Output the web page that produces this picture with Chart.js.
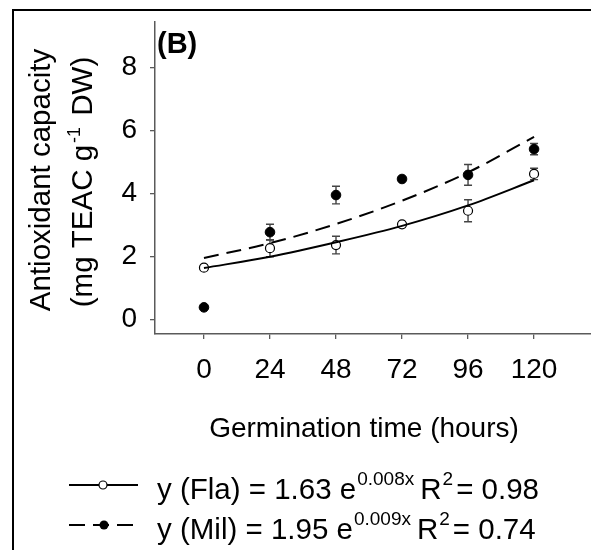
<!DOCTYPE html>
<html>
<head>
<meta charset="utf-8">
<script src="https://cdn.jsdelivr.net/npm/chart.js@4.4.1/dist/chart.umd.min.js"></script>
<style>
  body { margin: 0; background: #fff; }
  canvas { display: block; }
</style>
</head>
<body>
<canvas id="mycanvas" width="591" height="550"></canvas>
<script>
// Values (panel B)
var hours = [0, 24, 48, 72, 96, 120];
var flaMean = [1.64, 2.26, 2.36, 3.02, 3.45, 4.62];
var flaErr = [0.08, 0.27, 0.28, 0.04, 0.35, 0.18];
var milMean = [0.38, 2.77, 3.95, 4.46, 4.59, 5.41];
var milErr = [0.04, 0.25, 0.28, 0.04, 0.33, 0.18];

// fitted curves
var fitHours = [0, 24, 48, 72, 96, 120];
var flaFit = [1.63, 1.99, 2.45, 2.97, 3.62, 4.42];
var milFit = [1.95, 2.42, 3.03, 3.77, 4.67, 5.80];

var xTicks = [0, 24, 48, 72, 96, 120];
var yTicks = [0, 2, 4, 6, 8];

var FONT = "'Liberation Sans', Arial, Helvetica, sans-serif";
var AXIS = '#5a5a5a';

function toPoints(xs, ys) {
  var out = [];
  for (var i = 0; i < xs.length; i++) {
    out.push({x: xs[i], y: ys[i]});
  }
  return out;
}

// text pieces: [text, size, raise, gapAfter]
function richWidth(ctx, parts) {
  var w = 0;
  for (var i = 0; i < parts.length; i++) {
    ctx.font = parts[i][1] + 'px ' + FONT;
    w += ctx.measureText(parts[i][0]).width + (parts[i][3] || 0);
  }
  return w;
}
function drawRich(ctx, parts, x, y) {
  for (var i = 0; i < parts.length; i++) {
    var p = parts[i];
    ctx.font = p[1] + 'px ' + FONT;
    ctx.fillText(p[0], x, y - (p[2] || 0));
    x += ctx.measureText(p[0]).width + (p[3] || 0);
  }
}

// Error bars
var errorBars = {
  id: 'errorBars',
  beforeDatasetsDraw: function(chart) {
    var ctx = chart.ctx;
    var xs = chart.scales.x, ys = chart.scales.y;
    ctx.save();
    ctx.strokeStyle = '#444';
    ctx.lineWidth = 1.4;
    [[flaMean, flaErr], [milMean, milErr]].forEach(function(s) {
      for (var i = 0; i < hours.length; i++) {
        var px = xs.getPixelForValue(hours[i]);
        var top = ys.getPixelForValue(s[0][i] + s[1][i]);
        var bot = ys.getPixelForValue(s[0][i] - s[1][i]);
        ctx.beginPath();
        ctx.moveTo(px, top); ctx.lineTo(px, bot);
        ctx.moveTo(px - 4, top); ctx.lineTo(px + 4, top);
        ctx.moveTo(px - 4, bot); ctx.lineTo(px + 4, bot);
        ctx.stroke();
      }
    });
    ctx.restore();
  }
};

// Frame, titles, panel label, legend
var decorations = {
  id: 'decorations',
  afterDraw: function(chart) {
    var ctx = chart.ctx;
    ctx.save();
    // outer frame (cropped on right and bottom)
    ctx.strokeStyle = '#000';
    ctx.lineWidth = 2;
    ctx.beginPath();
    ctx.moveTo(13, 552); ctx.lineTo(13, 10); ctx.lineTo(595, 10);
    ctx.stroke();

    ctx.fillStyle = '#000';
    ctx.textBaseline = 'alphabetic';

    // panel label
    ctx.font = 'bold 29px ' + FONT;
    ctx.fillText('(B)', 157, 53);

    // x title
    ctx.font = '28px ' + FONT;
    ctx.textAlign = 'center';
    ctx.fillText('Germination time (hours)', 364, 437);
    ctx.textAlign = 'left';

    // y title, two rotated lines
    var l1 = [['Antioxidant capacity', 29.5, 0, 0]];
    var l2 = [['(mg TEAC g', 29.5, 0, 2], ['-1', 18, 12, 3], [' DW)', 29.5, 0, 0]];
    [[l1, 50, 180], [l2, 92, 182]].forEach(function(l) {
      ctx.save();
      ctx.translate(l[1], l[2]);
      ctx.rotate(-Math.PI / 2);
      drawRich(ctx, l[0], -richWidth(ctx, l[0]) / 2, 0);
      ctx.restore();
    });

    // legend
    ctx.strokeStyle = '#000';
    ctx.lineWidth = 1.8;
    ctx.beginPath();
    ctx.moveTo(69, 485); ctx.lineTo(138, 485);
    ctx.stroke();
    ctx.beginPath();
    ctx.arc(103, 485, 4, 0, Math.PI * 2);
    ctx.fillStyle = '#fff'; ctx.fill();
    ctx.lineWidth = 1.2; ctx.stroke();

    ctx.lineWidth = 1.8;
    ctx.setLineDash([16, 8]);
    ctx.beginPath();
    ctx.moveTo(69, 525); ctx.lineTo(133, 525);
    ctx.stroke();
    ctx.setLineDash([]);
    ctx.beginPath();
    ctx.arc(104, 525, 4.5, 0, Math.PI * 2);
    ctx.fillStyle = '#000'; ctx.fill();

    ctx.fillStyle = '#000';
    drawRich(ctx, [['y (Fla) = 1.63 e', 29.5, 0, 1], ['0.008x', 19, 14, 6], ['R', 29.5, 0, 1], ['2', 19, 14, 3], ['= 0.98', 29.5, 0, 0]], 157, 499);
    drawRich(ctx, [['y (Mil) = 1.95 e', 29.5, 0, 1], ['0.009x', 19, 14, 6], ['R', 29.5, 0, 1], ['2', 19, 14, 3], ['= 0.74', 29.5, 0, 0]], 157, 539);
    ctx.restore();
  }
};

var ctx = document.getElementById('mycanvas');

var chart = new Chart(ctx, {
  type: 'line',
  data: {
    datasets: [
      {
        label: 'Fla fit',
        data: toPoints(fitHours, flaFit),
        borderColor: '#000',
        borderWidth: 2,
        pointRadius: 0,
        cubicInterpolationMode: 'monotone'
      },
      {
        label: 'Mil fit',
        data: toPoints(fitHours, milFit),
        borderColor: '#000',
        borderWidth: 2,
        borderDash: [15, 8],
        pointRadius: 0,
        cubicInterpolationMode: 'monotone'
      },
      {
        label: 'Fla',
        data: toPoints(hours, flaMean),
        showLine: false,
        pointRadius: 4.5,
        pointBackgroundColor: '#fff',
        pointBorderColor: '#000',
        pointBorderWidth: 1.2
      },
      {
        label: 'Mil',
        data: toPoints(hours, milMean),
        showLine: false,
        pointRadius: 4.8,
        pointBackgroundColor: '#000',
        pointBorderColor: '#000',
        pointBorderWidth: 1
      }
    ]
  },
  options: {
    responsive: false,
    animation: false,
    layout: { autoPadding: false, padding: { top: 22, left: 0, right: 0, bottom: 0 } },
    plugins: {
      legend: { display: false },
      tooltip: { enabled: false }
    },
    scales: {
      x: {
        type: 'linear',
        min: -17.8,
        max: 140.7,
        afterBuildTicks: function(scale) {
          scale.ticks = xTicks.map(function(v) { return {value: v}; });
        },
        afterFit: function(scale) {
          scale.height = 216;
          scale.paddingLeft = 0;
          scale.paddingRight = 0;
        },
        grid: { drawOnChartArea: false, color: AXIS, tickLength: 5, lineWidth: 1.3 },
        border: { color: AXIS, width: 1.5 },
        ticks: { color: '#000', padding: 14, font: { family: FONT, size: 28 } }
      },
      y: {
        min: -0.467,
        max: 9.45,
        afterBuildTicks: function(scale) {
          scale.ticks = yTicks.map(function(v) { return {value: v}; });
        },
        afterFit: function(scale) {
          scale.width = 155;
          scale.paddingTop = 0;
          scale.paddingBottom = 0;
        },
        grid: { drawOnChartArea: false, color: AXIS, tickLength: 5, lineWidth: 1.3 },
        border: { color: AXIS, width: 1.5 },
        ticks: { color: '#000', padding: 13, font: { family: FONT, size: 28 } }
      }
    }
  },
  plugins: [errorBars, decorations]
});
</script>
</body>
</html>
